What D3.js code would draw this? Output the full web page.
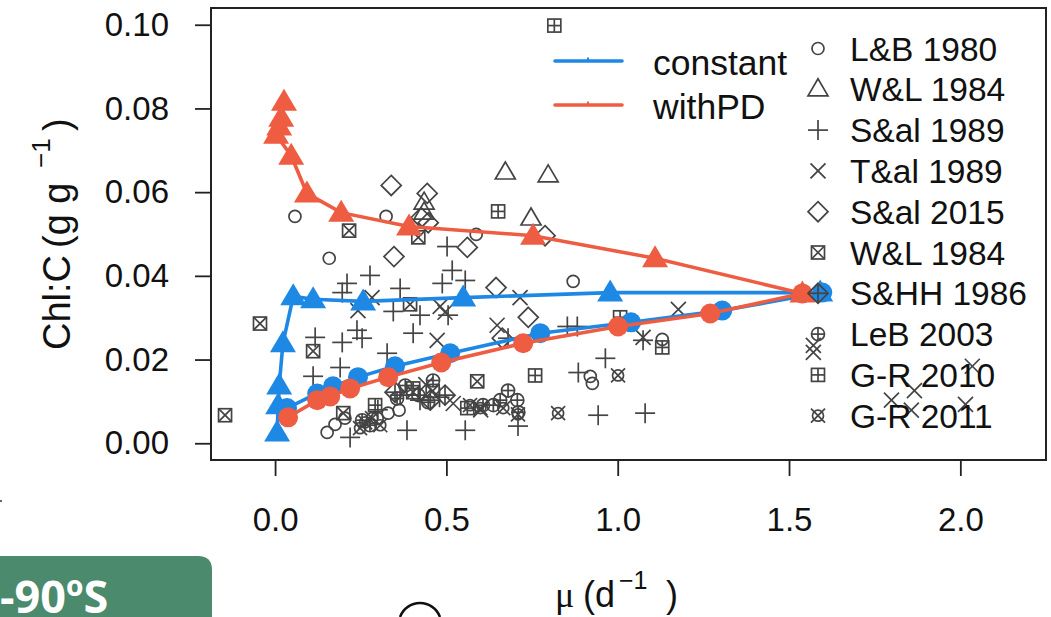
<!DOCTYPE html>
<html><head><meta charset="utf-8">
<script src="https://cdn.jsdelivr.net/npm/d3@7"></script>
<style>body{margin:0;background:#fff;} svg{display:block;}</style>
</head><body>
<svg id="c" width="1051" height="617"></svg>
<script>
// ---------- axis ticks ----------
const xTicks = [0, 0.5, 1.0, 1.5, 2.0];
const xTickLabels = ["0.0", "0.5", "1.0", "1.5", "2.0"];
const yTicks = [0, 0.02, 0.04, 0.06, 0.08, 0.10];
const yTickLabels = ["0.00", "0.02", "0.04", "0.06", "0.08", "0.10"];

// ---------- observation datasets [mu, Chl:C] ----------
const dsNames = ["L&B 1980", "W&L 1984", "S&al 1989", "T&al 1989", "S&al 2015", "W&L 1984", "S&HH 1986", "LeB 2003", "G-R 2010", "G-R 2011"];
const dsPch = [1, 2, 3, 4, 5, 7, 9, 10, 12, 13];

const LB1980 = [[0.058,0.0542],[0.324,0.0542],[0.587,0.0499],[0.870,0.0387],[0.158,0.0442],[1.130,0.0248],[0.920,0.0160],[0.926,0.0143],[0.152,0.0026],[0.175,0.0045],[0.204,0.0060],[0.298,0.0060],[0.330,0.0072],[0.362,0.0079]];
const WL1984a = [[0.672,0.0647],[0.797,0.0640],[0.747,0.0537],[0.435,0.0575],[0.435,0.0551]];
const Sal1989 = [[0.502,0.0470],[0.517,0.0413],[0.555,0.0389],[0.488,0.0382],[0.277,0.0401],[0.210,0.0382],[0.196,0.0360],[0.365,0.0370],[0.345,0.0315],[0.423,0.0306],[0.239,0.0270],[0.254,0.0251],[0.117,0.0253],[0.196,0.0241],[0.403,0.0263],[0.111,0.0160],[0.190,0.0181],[0.327,0.0215],[0.385,0.0031],[0.219,0.0014],[0.555,0.0031],[0.709,0.0041],[0.505,0.0306],[0.680,0.0251],[0.853,0.0279],[0.882,0.0279],[0.964,0.0203],[0.885,0.0169],[0.943,0.0067],[1.080,0.0072],[1.074,0.0246],[0.365,0.0115],[0.423,0.0103],[0.480,0.0110],[0.300,0.0080]];
const Tal1989 = [[0.283,0.0348],[0.242,0.0317],[0.482,0.0327],[0.473,0.0246],[0.648,0.0282],[0.715,0.0348],[1.074,0.0253],[1.177,0.0320],[1.571,0.0234],[1.571,0.0217],[1.799,0.0103],[1.866,0.0126],[1.857,0.0079],[2.015,0.0093],[2.035,0.0184],[0.496,0.0313],[0.440,0.0140],[0.520,0.0095],[0.600,0.0080]];
const Sal2015 = [[0.339,0.0616],[0.444,0.0597],[0.426,0.0539],[0.447,0.0527],[0.347,0.0446],[0.561,0.0468],[0.645,0.0372],[0.739,0.0301],[0.663,0.0251],[0.788,0.0496]];
const WL1984b = [[0.216,0.0508],[0.418,0.0492],[-0.044,0.0286],[0.111,0.0220],[0.394,0.0332],[0.590,0.0148],[0.403,0.0122],[-0.146,0.0067],[0.199,0.0072],[0.460,0.0125]];
const SHH1986 = [[0.453,0.0103],[0.350,0.0122],[0.496,0.0115]];
const LeB2003 = [[0.680,0.0126],[0.657,0.0103],[0.707,0.0103],[0.607,0.0091],[0.637,0.0091],[0.710,0.0074],[0.380,0.0138],[0.418,0.0115],[0.447,0.0098],[0.356,0.0107],[0.461,0.0150],[0.254,0.0055],[0.277,0.0043]];
const GR2010 = [[0.815,0.0998],[0.651,0.0554],[0.759,0.0162],[1.130,0.0229],[1.007,0.0301],[0.561,0.0084],[0.403,0.0131],[0.292,0.0091]];
const GR2011 = [[1.001,0.0162],[0.826,0.0072],[0.709,0.0069],[0.263,0.0050],[0.283,0.0060],[0.307,0.0043],[0.248,0.0036],[0.569,0.0091],[0.599,0.0084],[0.666,0.0084]];
const dsData = [LB1980, WL1984a, Sal1989, Tal1989, Sal2015, WL1984b, SHH1986, LeB2003, GR2010, GR2011];

// ---------- model series ----------
const lineNames = ["constant", "withPD"];
const lineColors = ["#1E88E5", "#EE5C42"];
const constantTri = [[0.006,0.0026],[0.009,0.0091],[0.012,0.0138],[0.023,0.0239],[0.053,0.0351],[0.111,0.0344],[0.257,0.0339],[0.549,0.0348],[0.978,0.0360],[1.591,0.0360]];
const constantCirc = [[0.035,0.0084],[0.123,0.0119],[0.169,0.0136],[0.242,0.0158],[0.350,0.0184],[0.511,0.0215],[0.774,0.0263],[1.039,0.0289],[1.305,0.0317],[1.597,0.0360]];
const withPDTri = [[0.026,0.0816],[0.018,0.0778],[0.012,0.0757],[0.003,0.0737],[0.047,0.0687],[0.093,0.0597],[0.193,0.0551],[0.391,0.0518],[0.753,0.0496],[1.109,0.0442],[1.539,0.0358]];
const withPDCirc = [[0.038,0.0062],[0.123,0.0103],[0.161,0.0112],[0.219,0.0131],[0.330,0.0158],[0.485,0.0193],[0.724,0.0239],[1.001,0.0279],[1.270,0.0310],[1.539,0.0358]];

// ---------- drawing ----------
const svg = d3.select("#c");
const FONT = "'Liberation Sans', Arial, sans-serif";
const INK = "#444";
const x = d3.scaleLinear().domain([-0.187, 2.25]).range([211, 1046]);
const y = d3.scaleLinear().domain([-0.004, 0.104]).range([460, 8]);

function drawPch(g, pch, cx, cy) {
  const s = g.append("g").attr("transform", `translate(${cx},${cy})`)
    .attr("fill", "none").attr("stroke", INK).attr("stroke-width", 1.7);
  const line = (a,b,c,d) => s.append("line").attr("x1",a).attr("y1",b).attr("x2",c).attr("y2",d);
  switch (pch) {
    case 1: s.append("circle").attr("r", 6); break;
    case 2: s.append("path").attr("d", "M0,-10.5L10,6.5L-10,6.5Z"); break;
    case 3: line(-10,0,10,0); line(0,-10,0,10); break;
    case 4: line(-7.5,-7.5,7.5,7.5); line(-7.5,7.5,7.5,-7.5); break;
    case 5: s.append("path").attr("d", "M0,-10L10,0L0,10L-10,0Z"); break;
    case 7: s.append("rect").attr("x",-6.5).attr("y",-6.5).attr("width",13).attr("height",13);
            line(-6.5,-6.5,6.5,6.5); line(-6.5,6.5,6.5,-6.5); break;
    case 9: s.append("path").attr("d", "M0,-10L10,0L0,10L-10,0Z"); line(-10,0,10,0); line(0,-10,0,10); break;
    case 10: s.append("circle").attr("r", 6.5); line(-6.5,0,6.5,0); line(0,-6.5,0,6.5); break;
    case 12: s.append("rect").attr("x",-6.5).attr("y",-6.5).attr("width",13).attr("height",13);
             line(-6.5,0,6.5,0); line(0,-6.5,0,6.5); break;
    case 13: s.append("circle").attr("r", 5.5); line(-7,-7,7,7); line(-7,7,7,-7); break;
  }
}

// observations
dsData.forEach((arr, i) => {
  const g = svg.append("g");
  arr.forEach(d => drawPch(g, dsPch[i], x(d[0]), y(d[1])));
});

// model lines + markers
const lineGen = d3.line().x(d => x(d[0])).y(d => y(d[1]));
function drawModel(tri, circ, color) {
  [tri, circ].forEach(arr => svg.append("path").datum(arr).attr("d", lineGen)
    .attr("fill", "none").attr("stroke", color).attr("stroke-width", 3.6));
  svg.append("g").selectAll("path").data(tri).join("path")
    .attr("d", "M0,-13L13,9L-13,9Z").attr("fill", color)
    .attr("transform", d => `translate(${x(d[0])},${y(d[1])})`);
  svg.append("g").selectAll("circle").data(circ).join("circle")
    .attr("cx", d => x(d[0])).attr("cy", d => y(d[1])).attr("r", 10).attr("fill", color);
}
drawModel(constantTri, constantCirc, lineColors[0]);
drawModel(withPDTri, withPDCirc, lineColors[1]);

// axes
const yAxis = d3.axisLeft(y).tickValues(yTicks).tickFormat((d,i) => yTickLabels[i]).tickSize(16).tickPadding(26);
const gy = svg.append("g").attr("transform", "translate(211,0)").call(yAxis);
const xAxis = d3.axisBottom(x).tickValues(xTicks).tickFormat((d,i) => xTickLabels[i]).tickSize(16).tickPadding(32);
const gx = svg.append("g").attr("transform", "translate(0,460)").call(xAxis);
[gx, gy].forEach(g => {
  g.select(".domain").remove();
  g.selectAll("line").attr("stroke", "#222").attr("stroke-width", 1.8);
  g.selectAll("text").attr("font-family", FONT).attr("font-size", 33).attr("fill", "#111");
});

// box
svg.append("rect").attr("x", 211).attr("y", 8).attr("width", 835).attr("height", 452)
  .attr("fill", "none").attr("stroke", "#222").attr("stroke-width", 2);

// axis titles (pieces placed along the axis, plotmath-like spacing)
const yg = svg.append("g").attr("transform", "rotate(-90)")
  .attr("font-family", FONT).attr("fill", "#111");
yg.append("text").attr("x", -350).attr("y", 70).attr("font-size", 38).text("Chl:C");
yg.append("text").attr("x", -248).attr("y", 70).attr("font-size", 38).text("(g g");
yg.append("text").attr("x", -168).attr("y", 50).attr("font-size", 26).text("\u22121");
yg.append("text").attr("x", -131).attr("y", 70).attr("font-size", 38).text(")");

const xg = svg.append("g").attr("font-family", FONT).attr("fill", "#111");
xg.append("text").attr("x", 555).attr("y", 607).attr("font-size", 36)
  .attr("font-family", "'Liberation Serif', serif").text("\u03BC");
xg.append("text").attr("x", 583).attr("y", 607).attr("font-size", 36).text("(d");
xg.append("text").attr("x", 619).attr("y", 589).attr("font-size", 25).text("\u22121");
xg.append("text").attr("x", 666).attr("y", 607).attr("font-size", 36).text(")");

// line legend
lineNames.forEach((n, i) => {
  const yy = 61 + i * 44;
  svg.append("line").attr("x1", 555).attr("x2", 622).attr("y1", yy).attr("y2", yy)
    .attr("stroke", lineColors[i]).attr("stroke-width", 3.6).attr("stroke-linecap", "round");
  svg.append("rect").attr("x", 587).attr("y", yy - 3.5).attr("width", 2).attr("height", 3).attr("fill", lineColors[i]);
  svg.append("text").attr("x", 653).attr("y", yy + 2).attr("dy", "0.35em")
    .attr("font-family", FONT).attr("font-size", 35.5).attr("fill", "#111").text(n);
});

// symbol legend
dsNames.forEach((n, i) => {
  const yy = 48.5 + i * 40.8;
  drawPch(svg, dsPch[i], 818, yy);
  svg.append("text").attr("x", 850).attr("y", yy).attr("dy", "0.36em")
    .attr("font-family", FONT).attr("font-size", 33.5).attr("fill", "#111").text(n);
});

// decorations outside the plot (cropped neighbouring content)
svg.append("path").attr("d", "M0,556H198Q212,556 212,570V617H0Z").attr("fill", "#4B8A6C");
svg.append("text").attr("x", 0).attr("y", 613).attr("font-family", "'Open Sans', sans-serif")
  .attr("font-weight", 700).attr("font-size", 45).attr("fill", "#fff").text("-90\u00BAS");
svg.append("path").attr("d", "M400,617A21.3,21.3 0 0 1 440,617").attr("fill", "none").attr("stroke", "#111").attr("stroke-width", 2.5);
svg.append("rect").attr("x", 0).attr("y", 500).attr("width", 2).attr("height", 2).attr("fill", "#666");
</script>
</body></html>
